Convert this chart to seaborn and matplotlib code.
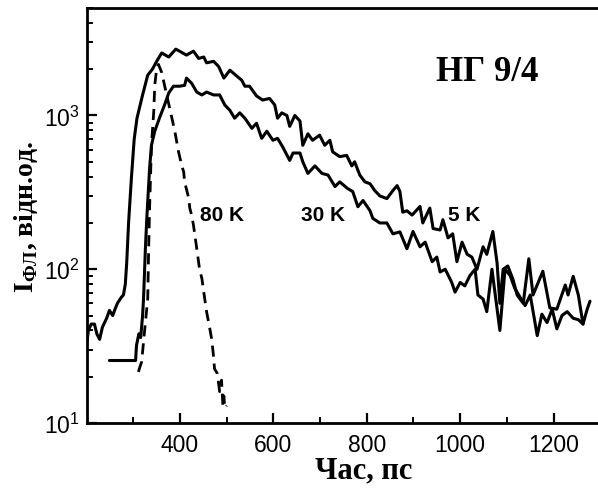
import numpy as np
import pandas as pd
import seaborn as sns
import matplotlib
matplotlib.use("Agg")
import matplotlib.pyplot as plt
from matplotlib.ticker import MultipleLocator, LogLocator, NullFormatter

# === Données (temps en ps, intensité en unités relatives) ===
x_5k = [200, 204, 210, 217, 222, 228, 234, 243, 249, 256, 260, 266, 275, 279, 283, 286, 290, 296, 302, 308,
        320, 331, 341, 352, 361, 376, 391, 399, 414, 429, 440, 451, 457, 472, 483, 494, 507, 522, 532, 539,
        549, 564, 577, 592, 603, 609, 618, 629, 635, 646, 657, 663, 674, 684, 699, 710, 721, 727, 742, 757,
        768, 774, 785, 796, 807, 817, 828, 843, 856, 865, 871, 877, 886, 897, 914, 920, 935, 942, 957, 963,
        974, 984, 993, 1004, 1015, 1025, 1036, 1049, 1057, 1070, 1079, 1085, 1092, 1102, 1113, 1122, 1135, 1147, 1156, 1177,
        1192, 1207, 1225, 1231, 1242, 1253, 1263, 1272, 1278]
y_5k = [32, 40, 44, 44, 38, 35, 42, 48, 54, 50, 54, 60, 66, 68, 80, 110, 200, 390, 700, 960,
        1360, 1830, 2000, 2300, 2550, 2400, 2700, 2620, 2470, 2620, 2350, 2400, 2200, 2250, 2080, 1750, 1970, 1800, 1700, 1550,
        1550, 1340, 1260, 1290, 1170, 960, 1040, 1000, 850, 1000, 920, 640, 760, 690, 745, 640, 690, 580, 540, 550,
        470, 500, 410, 370, 360, 325, 300, 288, 325, 350, 320, 235, 240, 225, 256, 200, 250, 184, 180, 210,
        160, 170, 112, 150, 125, 120, 100, 140, 125, 176, 110, 60, 100, 105, 86, 68, 60, 117, 68, 97,
        56, 55, 79, 68, 90, 68, 44, 55, 62]

x_30k = [249, 305, 307, 312, 316, 320, 322, 326, 329, 335, 339, 346, 356, 367, 376, 386, 399, 410, 414, 425,
         436, 447, 457, 472, 485, 496, 507, 517, 528, 539, 554, 564, 575, 586, 599, 609, 620, 635, 642, 657,
         663, 674, 689, 704, 717, 732, 742, 759, 770, 781, 792, 807, 813, 828, 843, 856, 871, 886, 899, 914,
         925, 940, 950, 957, 968, 982, 989, 1000, 1010, 1021, 1032, 1038, 1049, 1057, 1068, 1085, 1096, 1107, 1117, 1128,
         1139, 1150, 1165, 1175, 1186, 1197, 1207, 1218, 1229, 1242, 1253, 1263]
y_30k = [25.5, 25.5, 32, 38, 36, 50, 64, 136, 214, 453, 640, 790, 960, 1170, 1400, 1550, 1550, 1570, 1750, 1620,
         1420, 1360, 1420, 1360, 1360, 1170, 1080, 960, 1040, 960, 825, 890, 710, 790, 690, 710, 625, 510, 570, 570,
         500, 420, 470, 420, 410, 345, 370, 335, 320, 255, 280, 240, 214, 200, 200, 170, 175, 136, 176, 140,
         150, 112, 120, 96, 100, 82, 71, 82, 78, 91, 100, 68, 64, 53, 100, 40, 100, 91, 75, 66,
         58, 68, 37, 51, 45, 55, 41, 50, 53, 48, 47, 44]

x_80k = [311, 314, 318, 320, 326, 331, 333, 335, 339, 344, 346, 350, 354, 361, 367, 378, 389, 397, 404, 408,
         410, 419, 421, 425, 429, 436, 442, 447, 451, 457, 464, 468, 472, 474, 480, 485, 489, 492, 494, 496, 500]
y_80k = [21.5, 23, 25, 29, 45, 64, 136, 250, 640, 1070, 1570, 2000, 2150, 1900, 1570, 1116, 790, 580, 470, 430,
         370, 288, 250, 225, 193, 136, 100, 87, 71, 53, 41, 35, 27, 22.5, 21, 16, 19, 13, 15, 12.5, 13]

etiquettes = ["5 K", "30 K", "80 K"]
pos_etiquettes = [1008, 706, 489]

# === Style ===
sns.set_style("ticks")
plt.rcParams["font.family"] = ["Liberation Sans", "DejaVu Sans"]
plt.rcParams["mathtext.fontset"] = "custom"
plt.rcParams["mathtext.rm"] = "Liberation Sans"
plt.rcParams["mathtext.bf"] = "Liberation Serif:bold"
plt.rcParams["xtick.direction"] = "in"
plt.rcParams["ytick.direction"] = "in"
for k in ["text.color", "axes.labelcolor", "axes.edgecolor", "xtick.color", "ytick.color"]:
    plt.rcParams[k] = "black"

fig = plt.figure(figsize=(5.98, 4.89), dpi=100)
ax = fig.add_axes([0.1455, 0.1329, 0.9247, 0.8487])

sns.lineplot(x=x_5k, y=y_5k, ax=ax, color="black", linewidth=2.2, estimator=None, sort=False)
sns.lineplot(x=x_30k, y=y_30k, ax=ax, color="black", linewidth=2.2, estimator=None, sort=False)
sns.lineplot(x=x_80k, y=y_80k, ax=ax, color="black", linewidth=2.0, estimator=None, sort=False,
             linestyle=(0, (4, 2.5)))

ax.set_yscale("log")
ax.set_xlim(201, 1385)
ax.set_ylim(10, 5000)
ax.xaxis.set_major_locator(MultipleLocator(200))
ax.xaxis.set_minor_locator(MultipleLocator(100))
ax.yaxis.set_minor_locator(LogLocator(base=10, subs=np.arange(2, 10)))
ax.yaxis.set_minor_formatter(NullFormatter())

for s in ax.spines.values():
    s.set_linewidth(2)
ax.tick_params(which="major", length=7, width=1.6, labelsize=16.5, top=False, right=False)
ax.tick_params(axis="x", which="major", pad=7)
ax.tick_params(axis="y", which="major", pad=5)
ax.tick_params(which="minor", length=4, width=1.4, top=False, right=False)

ax.set_xlabel("Час, пс", family="Liberation Serif", fontweight="bold", fontsize=22, labelpad=0)
ax.set_ylabel(r"$\mathbf{I}_{\mathbf{ФЛ}}$, відн.од.", family="Liberation Serif",
              fontweight="bold", fontsize=20, labelpad=3)

ax.text(0.723, 0.846, "НГ 9/4", transform=ax.transAxes, family="Liberation Serif",
        fontweight="bold", fontsize=25, ha="center", va="center")
for txt, xp in zip(etiquettes, pos_etiquettes):
    ax.text(xp, 227, txt, fontsize=15, fontweight="bold", ha="center", va="center")

fig.savefig("out.png", dpi=100)
